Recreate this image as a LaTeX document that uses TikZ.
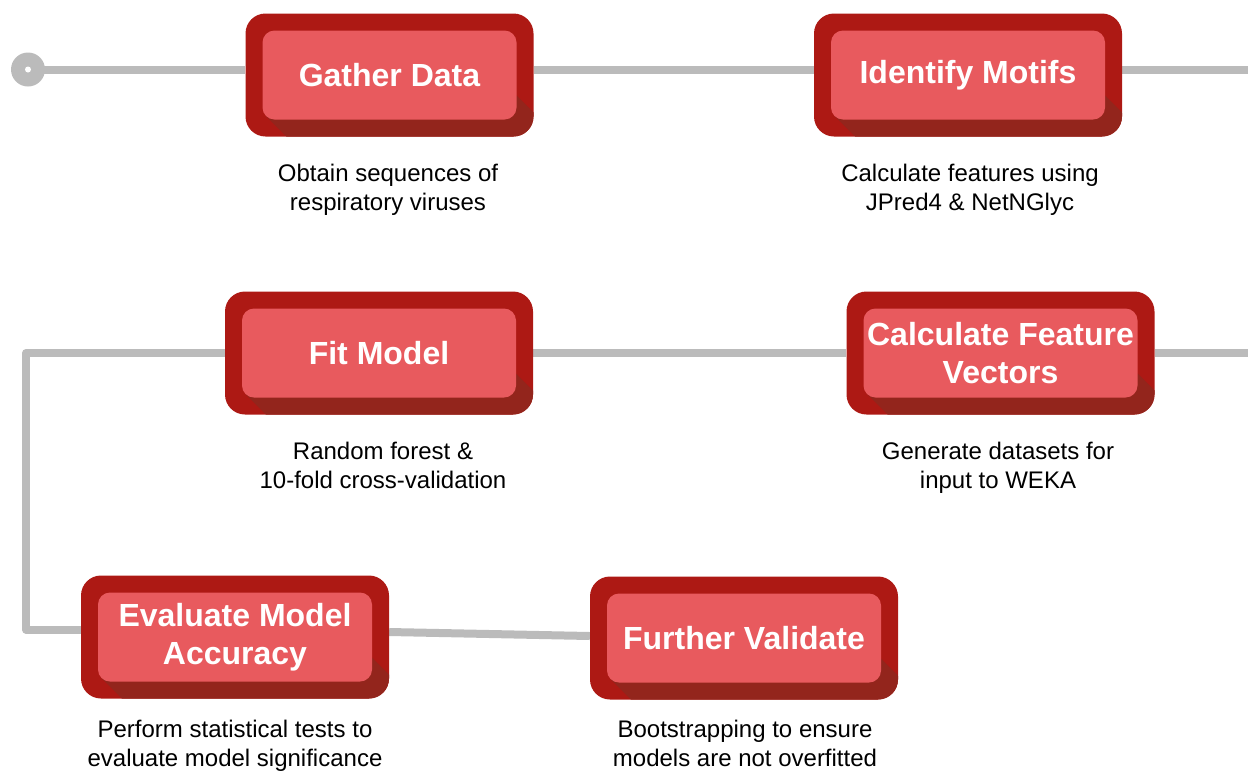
\documentclass[tikz,border=0pt]{standalone}
\usepackage{fontspec}
\setmainfont{Liberation Sans}
\usepackage{xcolor}
\usetikzlibrary{backgrounds}

\definecolor{outerred}{HTML}{AD1914}
\definecolor{innerred}{HTML}{E85A5E}
\definecolor{shadowred}{HTML}{93251C}
\definecolor{linkgray}{HTML}{BBBBBB}

\tikzset{
  stepbox/.style={rounded corners=20pt, fill=outerred, text=white, align=center,
    font=\bfseries\fontsize{32}{38}\selectfont,
    minimum width=308pt, minimum height=123pt, inner sep=0pt,
    path picture={
      % long shadow under the panel
      \fill[shadowred, sharp corners]
        ([shift={(20.5pt,20.5pt)}]path picture bounding box.south west) -- ++(40pt,-40pt)
        -- ([shift={(40pt,-40pt)}]path picture bounding box.south east)
        -- ([shift={(40pt,-16pt)}]path picture bounding box.south east)
        -- ([shift={(-17pt,41pt)}]path picture bounding box.south east)
        -- ([shift={(-30pt,30pt)}]path picture bounding box.south east) -- cycle;
      % inner panel
      \fill[innerred, rounded corners=12pt]
        ([shift={(17pt,17pt)}]path picture bounding box.south west) rectangle
        ([shift={(-17pt,-17pt)}]path picture bounding box.north east);
    }},
  note/.style={anchor=north, inner sep=0pt, align=center, font=\fontsize{24}{29}\selectfont},
  link/.style={draw=linkgray, line width=8pt, line join=round}
}

\begin{document}
\begin{tikzpicture}[x=1pt, y=-1pt]
    \useasboundingbox (0,0) rectangle (1248,772);

    % first row
    \node[circle, fill=linkgray, minimum size=34pt, inner sep=0pt] (start) at (28,69.5) {};
    \fill[white] (start) circle (3pt);
    \node[stepbox, minimum width=288pt] (gather) at (389.5,75) {Gather Data};
    \node[stepbox] (motifs) at (968,75) {Identify Motifs};
    \node[note] (gatherNote) at (388,164) {Obtain sequences of\\respiratory viruses};
    \node[note] (motifsNote) at (970,164) {Calculate features using\\JPred4 \& NetNGlyc};
    \coordinate (exit1) at (1248,69.5);

    % second row
    \node[stepbox] (fit) at (379,353) {Fit Model};
    \node[stepbox] (vectors) at (1000.5,353) {Calculate Feature\\Vectors};
    \node[note] (fitNote) at (383,442) {Random forest \&\\10-fold cross-validation};
    \node[note] (vectorsNote) at (998,442) {Generate datasets for\\input to WEKA};
    \coordinate (exit2) at (1248,353);
    \coordinate (turn1) at (26,353);
    \coordinate (turn2) at (26,629.5);

    % third row
    \node[stepbox] (evaluate) at (235,637) {Evaluate Model\\Accuracy};
    \node[stepbox] (validate) at (744,638) {Further Validate};
    \node[note] (evaluateNote) at (235,720) {Perform statistical tests to\\evaluate model significance};
    \node[note] (validateNote) at (745,720) {Bootstrapping to ensure\\models are not overfitted};

    \begin{scope}[on background layer]
        \draw[link] (start.center) -- ([yshift=5.5pt]gather.west);
        \draw[link] ([yshift=5.5pt]gather.east) -- ([yshift=5.5pt]motifs.west);
        \draw[link] ([yshift=5.5pt]motifs.east) -- (exit1);
        \draw[link] (exit2) -- (vectors.east);
        \draw[link] (vectors.west) -- (fit.east);
        \draw[link] (fit.west) -- (turn1) -- (turn2) -- ([yshift=7.5pt]evaluate.west);
        \draw[link] ([yshift=5pt]evaluate.east) -- ([yshift=2pt]validate.west);
    \end{scope}
\end{tikzpicture}
\end{document}
